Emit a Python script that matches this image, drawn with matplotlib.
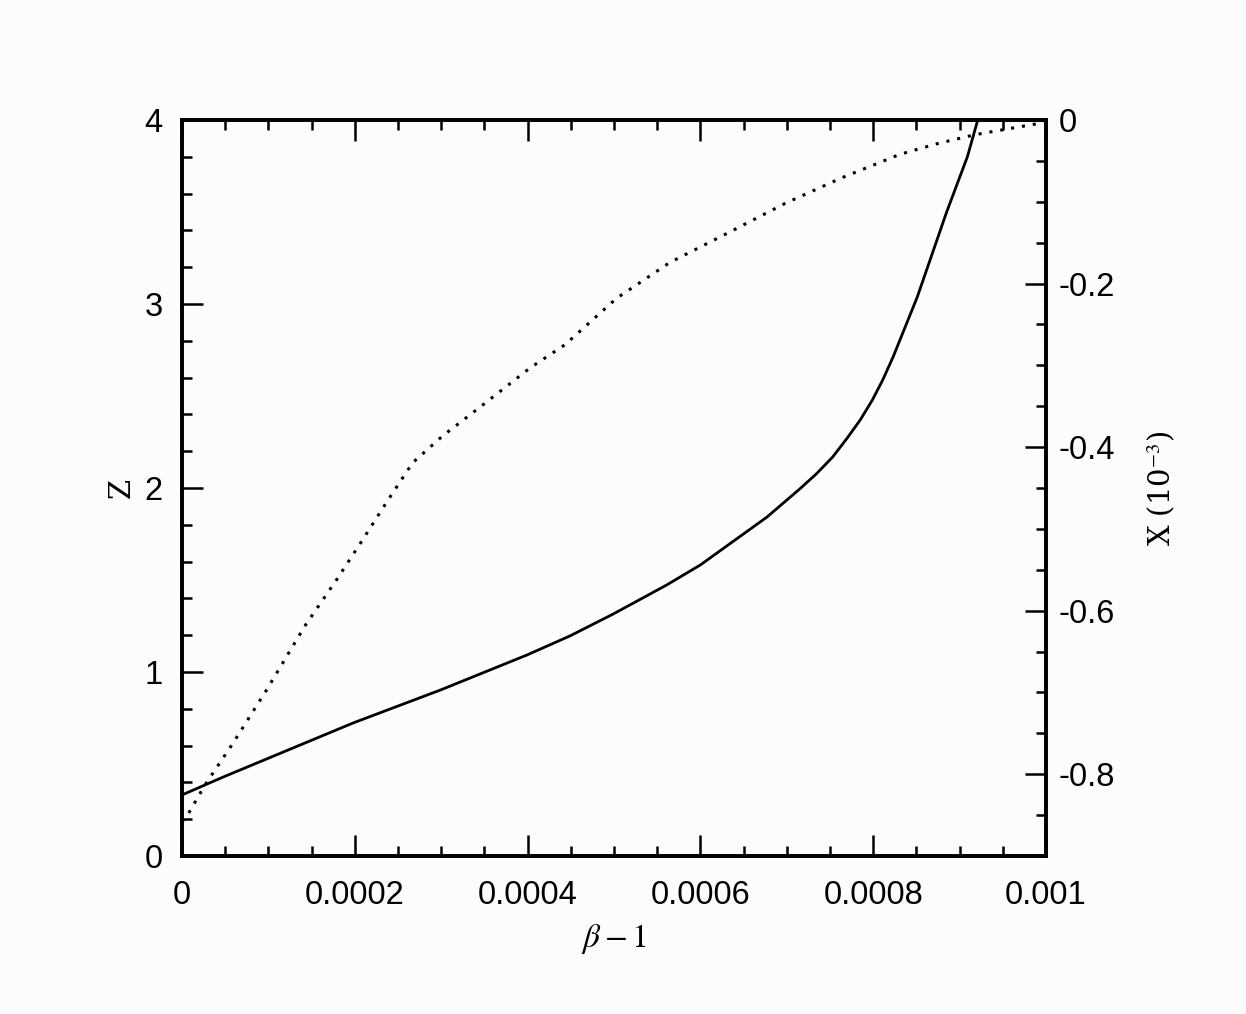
import numpy as np
import matplotlib.pyplot as plt
from matplotlib.ticker import MultipleLocator, FixedLocator

plt.rcParams['axes.unicode_minus'] = False
plt.rcParams['mathtext.fontset'] = 'stix'

# solid curve: Z vs beta-1 (left axis)
beta_z = [0.0, 0.0000475, 0.000198, 0.000299, 0.000399, 0.000449, 0.000499,
          0.000561, 0.000600, 0.000677, 0.000715, 0.000734, 0.000753, 0.000770,
          0.000785, 0.000799, 0.000811, 0.000823, 0.000851, 0.000885, 0.000909,
          0.000921]
z_vals = [0.332, 0.429, 0.723, 0.902, 1.092, 1.196, 1.315,
          1.473, 1.582, 1.842, 1.995, 2.076, 2.168, 2.272,
          2.370, 2.478, 2.587, 2.712, 3.038, 3.500, 3.800,
          4.0]

# dotted curve: X (1e-3) vs beta-1 (right axis)
beta_x = [0.0, 0.0000069, 0.0000266, 0.000059, 0.0000984, 0.000142, 0.000179,
          0.000208, 0.000237, 0.000267, 0.000302, 0.000345, 0.000403, 0.000443,
          0.000503, 0.000565, 0.000634, 0.000698, 0.000763, 0.000831, 0.000874,
          0.000918, 0.000993, 0.001]
x_vals = [-0.858, -0.849, -0.813, -0.762, -0.696, -0.619, -0.562,
          -0.515, -0.467, -0.419, -0.386, -0.351, -0.303, -0.275,
          -0.218, -0.174, -0.137, -0.102, -0.071, -0.042, -0.029,
          -0.018, -0.004, 0.0]

bottom_ticks = [0, 0.0002, 0.0004, 0.0006, 0.0008, 0.001]
bottom_labels = ['0', '0.0002', '0.0004', '0.0006', '0.0008', '0.001']
left_ticks = [0, 1, 2, 3, 4]
right_ticks = [0, -0.2, -0.4, -0.6, -0.8]
right_labels = ['0', '-0.2', '-0.4', '-0.6', '-0.8']

bg = '#fcfcfc'
fig = plt.figure(figsize=(12.46, 10.14), dpi=100, facecolor=bg)
ax = fig.add_axes([0.1461, 0.1558, 0.6934, 0.7259])
ax.set_facecolor(bg)
ax2 = ax.twinx()

ax.plot(beta_z, z_vals, color='black', lw=2.0, solid_joinstyle='round')
ax2.plot(beta_x, x_vals, color='black', lw=2.2, dashes=(1, 2.6))

ax.set_xlim(0, 0.001)
ax.set_ylim(0, 4)
ax2.set_ylim(-0.9, 0)

ax.xaxis.set_major_locator(FixedLocator(bottom_ticks))
ax.set_xticklabels(bottom_labels)
ax.xaxis.set_minor_locator(MultipleLocator(0.00005))
ax.yaxis.set_major_locator(FixedLocator(left_ticks))
ax.yaxis.set_minor_locator(MultipleLocator(0.2))
ax2.yaxis.set_major_locator(FixedLocator(right_ticks))
ax2.set_yticklabels(right_labels)
ax2.yaxis.set_minor_locator(MultipleLocator(0.05))

for a in (ax, ax2):
    for s in a.spines.values():
        s.set_linewidth(2.6)

ax.tick_params(axis='x', which='both', direction='in', top=True, bottom=True,
               width=1.8, labelsize=23.5, pad=17)
ax.tick_params(axis='y', which='both', direction='in', left=True, right=False,
               width=1.8, labelsize=23.5, pad=14)
ax.tick_params(which='major', length=15)
ax.tick_params(which='minor', length=7.5)
ax2.tick_params(axis='y', which='both', direction='in', right=True, left=False,
                width=1.8, labelsize=23.5, pad=9)
ax2.tick_params(which='major', length=15)
ax2.tick_params(which='minor', length=7.5)

for lbl in ax.get_xticklabels() + ax.get_yticklabels() + ax2.get_yticklabels():
    lbl.set_family('Liberation Sans')

ax.set_xlabel(r'$\beta - 1$', fontsize=24, labelpad=8)
ax.set_ylabel('Z', fontsize=21, family='DejaVu Serif', labelpad=6)
ax2.set_ylabel(r'X (10$^{-3}$)', fontsize=21, family='DejaVu Serif', labelpad=22,
               rotation=90)

fig.savefig('out.png', dpi=100, facecolor=bg)
